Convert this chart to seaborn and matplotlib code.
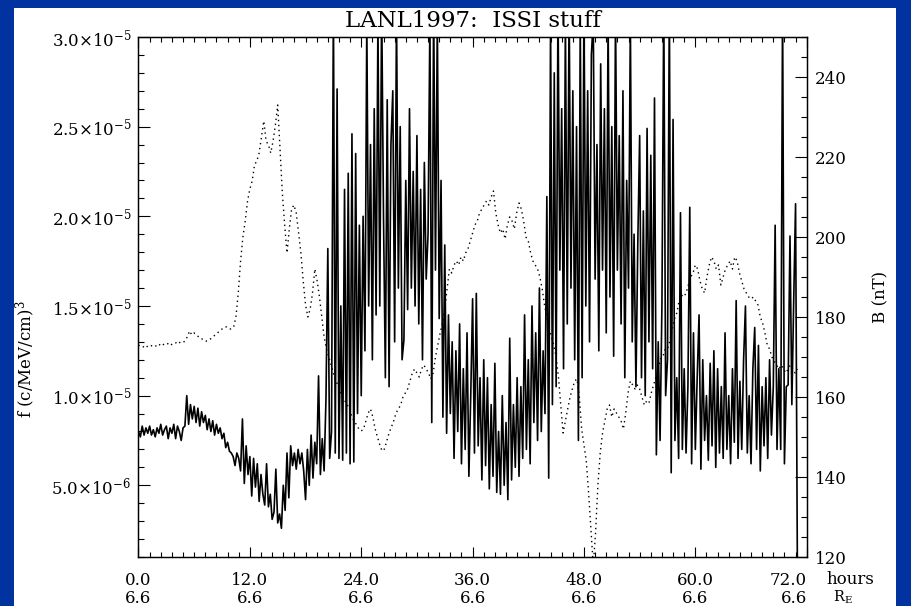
import numpy as np
import matplotlib
matplotlib.use("Agg")
import matplotlib.pyplot as plt
from matplotlib.patches import Rectangle
from matplotlib.ticker import MultipleLocator, FixedLocator, FixedFormatter
import seaborn as sns

# Phase space density f, in units of 1e-6 (c/MeV/cm)^3, one sample every 0.2 h
F_STEP_H = 0.2
f_e6 = [
    8.0, 7.7, 8.3, 7.8, 8.2,
    7.9, 8.3, 7.8, 8.1, 7.7,
    8.2, 7.9, 8.4, 7.8, 8.1,
    8.3, 7.6, 8.2, 7.9, 8.4,
    7.6, 8.3, 8.0, 7.5, 8.2,
    8.3, 10.0, 8.4, 9.5, 8.7,
    9.4, 8.5, 9.3, 8.3, 9.1,
    8.5, 8.9, 8.1, 8.7, 8.0,
    8.6, 7.8, 8.4, 7.9, 8.2,
    7.6, 7.9, 7.1, 7.4, 6.9,
    6.8, 6.6, 6.1, 6.8, 6.5,
    5.8, 8.7, 5.1, 7.2, 5.6,
    6.6, 4.4, 6.5, 4.9, 6.2,
    4.1, 5.6, 4.5, 3.9, 6.2,
    3.8, 4.5, 3.1, 3.5, 5.9,
    2.9, 3.4, 2.6, 5.0, 3.6,
    6.8, 4.3, 7.2, 6.1, 6.8,
    5.9, 7.0, 6.2, 6.8, 5.8,
    4.2, 7.0, 5.0, 7.8, 5.4,
    7.4, 6.2, 11.1, 5.6, 7.6,
    5.8, 9.8, 18.2, 6.5, 8.0,
    32.0, 6.8, 27.1, 6.5, 15.0,
    6.4, 21.5, 6.8, 22.4, 6.2,
    24.6, 6.3, 23.5, 9.0, 19.5,
    10.0, 20.0, 12.5, 31.0, 15.0,
    24.0, 12.0, 26.0, 14.5, 31.0,
    15.0, 32.0, 20.0, 11.0, 26.5,
    10.5, 24.0, 27.0, 13.0, 31.5,
    16.0, 25.0, 12.0, 13.1, 22.0,
    14.8, 26.0, 16.0, 22.5, 15.0,
    24.5, 14.0, 21.5, 12.0, 23.0,
    16.5, 19.0, 31.0, 8.5, 32.0,
    17.0, 31.0, 14.3, 22.0, 8.8,
    18.4, 7.9, 14.5, 9.0, 13.0,
    6.5, 12.5, 8.0, 14.0, 6.2,
    11.5, 7.0, 13.5, 5.5, 10.0,
    15.4, 6.8, 15.7, 7.2, 11.0,
    5.3, 12.0, 6.1, 11.0, 4.8,
    9.5, 5.5, 11.8, 4.6, 8.0,
    4.5, 10.0, 5.0, 8.5, 4.2,
    13.2, 5.3, 9.5, 6.0, 11.0,
    5.5, 10.5, 6.5, 14.5, 7.0,
    12.0, 6.2, 15.0, 8.5, 13.5,
    7.5, 16.0, 8.0, 12.5, 9.0,
    21.1, 5.4, 31.0, 9.5, 28.0,
    10.5, 32.0, 17.0, 26.0, 11.5,
    31.0, 14.0, 32.0, 16.0, 27.0,
    12.0, 25.0, 7.5, 31.0, 11.0,
    32.0, 15.0, 27.0, 13.0, 29.0,
    31.0, 16.5, 24.0, 12.5, 28.5,
    17.0, 26.0, 13.5, 31.0, 15.5,
    25.0, 12.2, 31.5, 17.0, 24.5,
    14.0, 27.0, 11.0, 22.0, 16.0,
    31.0, 13.0, 19.0, 10.5, 18.5,
    24.5, 11.0, 20.3, 10.0, 24.9,
    13.0, 23.4, 11.5, 26.6, 6.7,
    13.0, 7.5, 15.0, 32.0, 10.0,
    12.0, 32.0, 5.7, 25.4, 7.5,
    11.0, 6.5, 20.2, 7.0, 11.5,
    6.8, 10.5, 20.5, 6.2, 13.5,
    7.0, 11.0, 14.5, 5.9, 12.0,
    7.5, 10.0, 6.4, 11.8, 7.2,
    12.5, 6.0, 11.5, 6.8, 10.5,
    6.5, 13.5, 7.0, 10.0, 6.2,
    11.5, 7.4, 15.3, 6.5, 10.8,
    7.0, 12.0, 15.0, 6.8, 10.0,
    6.2, 11.5, 13.8, 7.0, 12.8,
    5.8, 10.5, 7.2, 11.0, 6.5,
    12.0, 7.8, 10.5, 19.5, 7.0,
    11.5, 7.0, 32.0, 6.2, 10.5,
    10.6, 18.9, 9.5, 15.3, 20.7,
    0.0,
]

# Magnetic field B (nT), one sample every 0.25 h
B_STEP_H = 0.25
b_nt = [
    173, 172.5, 172.5, 173,
    172.5, 172.5, 173, 173,
    172.5, 173, 173.5, 173,
    173, 173.5, 173, 173.5,
    173.5, 174, 173.5, 173.5,
    174, 175, 176.5, 175.5,
    176, 175.5, 175, 174.5,
    174.5, 174, 174, 174.5,
    175, 175.5, 176, 176.5,
    177, 177.5, 177.5, 177,
    177, 177.5, 180, 186,
    194, 200, 204, 209,
    212, 214, 218, 219,
    221, 225, 229, 224,
    223, 221, 224, 228,
    233, 222, 211, 203,
    196, 202, 207, 208,
    206, 201, 196, 189,
    183, 180, 182, 186,
    192, 189, 185, 180,
    175, 172, 170, 168,
    166, 164, 163, 161,
    160, 159, 158, 157,
    155, 154, 153, 152,
    151.5, 152, 154, 156,
    157, 155, 152, 150,
    148, 146.5, 147, 149,
    151, 152.5, 154, 156,
    157, 158, 160, 161,
    162, 164, 166, 167,
    166, 165, 167, 168,
    167, 166, 164.5, 166,
    170, 173, 176, 178.5,
    182, 187, 192, 191,
    193, 194, 193, 195,
    194, 196, 197, 199,
    201, 203, 204, 206,
    207, 208, 209, 208,
    210, 211.5, 206, 203,
    201, 202, 199.5, 203,
    205, 204, 202, 206,
    208.5, 207, 204, 200,
    199, 196, 194, 193,
    192, 190, 187, 183,
    180, 177, 175, 173,
    170, 165, 158, 151,
    154, 157, 160, 162,
    164, 164.5, 160, 152,
    148, 144, 136, 127,
    118, 126, 138, 146,
    151, 154, 157, 158,
    155, 157, 156, 155,
    154, 152, 156, 161,
    164, 163, 162, 163,
    162, 160, 158, 159,
    158.5, 161, 163, 165,
    167, 169.5, 170, 172,
    172, 174, 177, 179.5,
    181, 184, 185.5, 185,
    186, 188, 190, 191,
    193, 192, 189, 187,
    186, 190, 193, 195,
    194, 192, 193, 188,
    190, 192, 193, 194,
    192, 195, 194, 191,
    189, 187, 186, 185,
    184.5, 185, 184, 183,
    180, 178.5, 176, 173,
    172, 170, 169, 168,
    167, 168, 167, 166,
    167, 168, 167, 166,
    167,
]

# Axis ticks and labels
hour_ticks = [0, 12, 24, 36, 48, 60, 72]
hour_labels = ["0.0", "12.0", "24.0", "36.0", "48.0", "60.0", "72.0"]
radius_labels = ["6.6", "6.6", "6.6", "6.6", "6.6", "6.6", "6.6"]
f_ticks = [5e-6, 1.0e-5, 1.5e-5, 2.0e-5, 2.5e-5, 3.0e-5]
f_tick_labels = [r"$5.0{\times}10^{-6}$", r"$1.0{\times}10^{-5}$", r"$1.5{\times}10^{-5}$",
                 r"$2.0{\times}10^{-5}$", r"$2.5{\times}10^{-5}$", r"$3.0{\times}10^{-5}$"]
b_ticks = [120, 140, 160, 180, 200, 220, 240]
b_tick_labels = ["120", "140", "160", "180", "200", "220", "240"]

f_vals = np.array(f_e6) * 1e-6
t_f = np.arange(len(f_vals)) * F_STEP_H
b_vals = np.array(b_nt, dtype=float)
t_b = np.arange(len(b_vals)) * B_STEP_H

sns.set_theme(style="white")
plt.rcParams["font.family"] = ["DejaVu Serif"]
plt.rcParams["mathtext.fontset"] = "dejavuserif"
plt.rcParams["axes.edgecolor"] = "black"
plt.rcParams["xtick.color"] = "black"
plt.rcParams["ytick.color"] = "black"
plt.rcParams["text.color"] = "black"
plt.rcParams["axes.labelcolor"] = "black"

SLIDE_BLUE = "#0033a0"
W, H = 912, 606
fig = plt.figure(figsize=(W / 100, H / 100), dpi=100, facecolor=SLIDE_BLUE)
fig.patches.append(Rectangle((14 / W, 0), (896 - 14) / W, (H - 8) / H,
                             transform=fig.transFigure, facecolor="white",
                             edgecolor="none", zorder=-10))

ax = fig.add_axes([138.5 / W, (H - 557) / H, 668.2 / W, 520 / H])
ax.set_facecolor("white")
ax2 = ax.twinx()

sns.lineplot(x=t_f, y=f_vals, ax=ax, color="black", linewidth=1.2,
             estimator=None, sort=False)
sns.lineplot(x=t_b, y=b_vals, ax=ax2, color="black", linewidth=1.0,
             linestyle=(0, (1, 2.6)), estimator=None, sort=False)

ax.set_xlim(0, 72)
ax.set_ylim(1e-6, 3e-5)
ax2.set_ylim(120, 250)

for a in (ax, ax2):
    for s in a.spines.values():
        s.set_linewidth(0.9)
        s.set_color("black")

fs = 12
# x axis: hours and radial distance
ax.xaxis.set_major_locator(FixedLocator(hour_ticks))
ax.xaxis.set_major_formatter(FixedFormatter(
    [f"{h}\n{r}" for h, r in zip(hour_labels, radius_labels)]))
ax.xaxis.set_minor_locator(MultipleLocator(1.2))
ax.tick_params(axis="x", which="both", direction="in", top=True, bottom=True,
               labelsize=fs, pad=11)
ax.tick_params(axis="x", which="major", length=7, width=0.8)
ax.tick_params(axis="x", which="minor", length=3.6, width=0.8)
for lab in ax.get_xticklabels():
    lab.set_linespacing(1.05)
last = ax.get_xticklabels()[-1]
last.set_horizontalalignment("right")
last.set_multialignment("right")

# left axis: f
ax.yaxis.set_major_locator(FixedLocator(f_ticks))
ax.yaxis.set_major_formatter(FixedFormatter(f_tick_labels))
ax.yaxis.set_minor_locator(MultipleLocator(1e-6))
ax.tick_params(axis="y", which="both", direction="in", left=True, right=False,
               labelsize=fs, pad=5)
ax.tick_params(axis="y", which="major", length=8.5, width=0.8)
ax.tick_params(axis="y", which="minor", length=4.3, width=0.8)

# right axis: B
ax2.yaxis.set_major_locator(FixedLocator(b_ticks))
ax2.yaxis.set_major_formatter(FixedFormatter(b_tick_labels))
ax2.yaxis.set_minor_locator(MultipleLocator(5))
ax2.tick_params(axis="y", which="both", direction="in", right=True, left=False,
                labelsize=fs, pad=6)
ax2.tick_params(axis="y", which="major", length=8.5, width=0.8)
ax2.tick_params(axis="y", which="minor", length=4.3, width=0.8)

ax.set_xlabel("")
ax.set_ylabel(r"f (c/MeV/cm)$^3$", fontsize=fs)
ax.yaxis.set_label_coords(-0.150, 0.38)
ax2.set_ylabel("B (nT)", fontsize=fs, rotation=90)
ax2.yaxis.set_label_coords(1.098, 0.50)

ax.text(1.029, -0.043, "hours", transform=ax.transAxes, ha="left", va="center",
        fontsize=fs, clip_on=False)
ax.text(1.04, -0.078, r"R$_{\mathrm{E}}$", transform=ax.transAxes, ha="left",
        va="center", fontsize=10.5, clip_on=False)

ax.set_title("LANL1997:  ISSI stuff", fontsize=16.5, pad=7)

fig.savefig("out.png", dpi=100, facecolor=fig.get_facecolor())
